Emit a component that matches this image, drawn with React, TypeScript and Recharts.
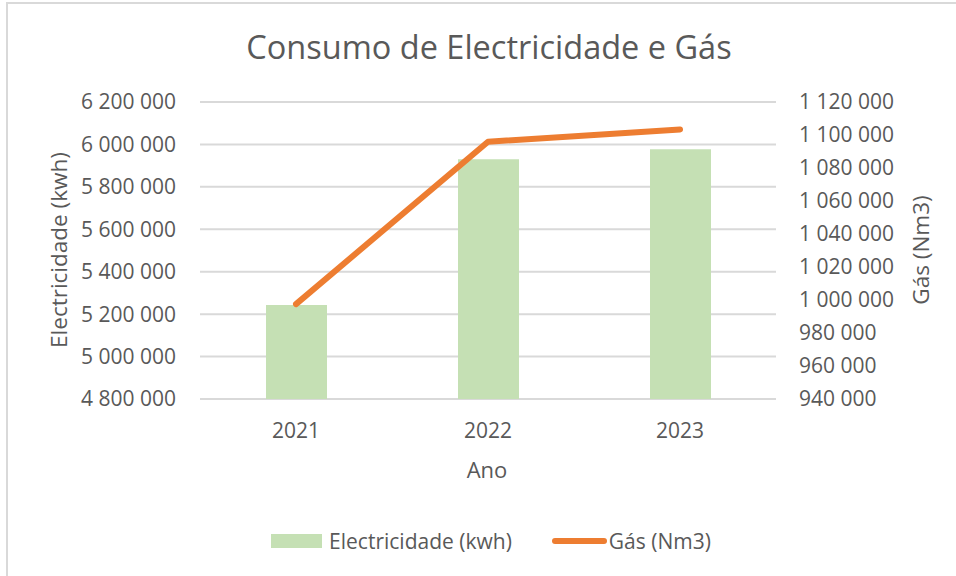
import {
  ComposedChart,
  Bar,
  Line,
  XAxis,
  YAxis,
  CartesianGrid,
} from "recharts";

const years = ["2021", "2022", "2023"];
const electricidade = [5243000, 5930000, 5977000];
const gas = [997500, 1095900, 1103400];

const leftTicks = [4800000, 5000000, 5200000, 5400000, 5600000, 5800000, 6000000, 6200000];
const rightTicks = [940000, 960000, 980000, 1000000, 1020000, 1040000, 1060000, 1080000, 1100000, 1120000];

const BAR_COLOR = "#C5E0B4";
const LINE_COLOR = "#ED7D31";
const TEXT = "#595959";
const GRID = "#d9d9d9";
const FONT = "'Open Sans', sans-serif";

const data = years.map((y, i) => ({
  ano: y,
  elec: electricidade[i],
  gas: gas[i],
}));

const fmt = (v: number) => String(v).replace(/\B(?=(\d{3})+(?!\d))/g, " ");

// legend drawn by hand: Excel's swatches are wider than recharts' square icons
function LegendBox() {
  return (
    <div
      style={{
        position: "absolute",
        left: 0,
        width: 956,
        top: 527,
        display: "flex",
        justifyContent: "center",
        alignItems: "center",
        fontSize: 21,
        color: TEXT,
        lineHeight: "28px",
        paddingLeft: 26,
        boxSizing: "border-box",
      }}
    >
      <span style={{ display: "inline-block", width: 51, height: 14, background: BAR_COLOR, marginRight: 7 }} />
      <span>Electricidade (kwh)</span>
      <span
        style={{
          display: "inline-block",
          width: 55,
          height: 6,
          borderRadius: 3,
          background: LINE_COLOR,
          marginLeft: 40,
          marginRight: 2,
        }}
      />
      <span>Gás (Nm3)</span>
    </div>
  );
}

export default function App() {
  return (
    <div
      style={{
        position: "absolute",
        left: 0,
        top: 0,
        width: 956,
        height: 576,
        overflow: "hidden",
        background: "#fff",
        fontFamily: FONT,
      }}
    >
      <div
        style={{
          position: "absolute",
          left: 6,
          top: 2,
          width: 1000,
          height: 700,
          border: `2px solid ${GRID}`,
          boxSizing: "border-box",
        }}
      />
      <div
        style={{
          position: "absolute",
          left: 0,
          width: 978,
          top: 27,
          textAlign: "center",
          fontSize: 32.5,
          color: TEXT,
          lineHeight: "40px",
        }}
      >
        Consumo de Electricidade e Gás
      </div>
      <div
        style={{
          position: "absolute",
          left: 58,
          top: 250,
          transform: "translate(-50%, -50%) rotate(-90deg)",
          whiteSpace: "nowrap",
          fontSize: 22.5,
          color: TEXT,
        }}
      >
        Electricidade (kwh)
      </div>
      <div
        style={{
          position: "absolute",
          left: 920,
          top: 250,
          transform: "translate(-50%, -50%) rotate(-90deg)",
          whiteSpace: "nowrap",
          fontSize: 22.5,
          color: TEXT,
        }}
      >
        Gás (Nm3)
      </div>
      <div
        style={{
          position: "absolute",
          left: 487,
          top: 469,
          transform: "translate(-50%, -50%)",
          fontSize: 22,
          color: TEXT,
        }}
      >
        Ano
      </div>
      <div style={{ position: "absolute", left: 0, top: 0 }}>
        <ComposedChart
          width={956}
          height={576}
          data={data}
          margin={{ top: 102, right: 0, bottom: 137, left: 0 }}
        >
          <CartesianGrid
            yAxisId="left"
            vertical={false}
            stroke={GRID}
            strokeWidth={2}
          />
          <XAxis
            dataKey="ano"
            height={40}
            axisLine={false}
            tickLine={false}
            tickMargin={18}
            tick={{ fill: TEXT, fontSize: 21, fontFamily: FONT }}
          />
          <YAxis
            yAxisId="left"
            orientation="left"
            width={200}
            domain={[4800000, 6200000]}
            ticks={leftTicks}
            interval={0}
            axisLine={false}
            tickLine={false}
            tickMargin={18}
            tickFormatter={fmt}
            tick={{ fill: TEXT, fontSize: 21, fontFamily: FONT }}
          />
          <YAxis
            yAxisId="right"
            orientation="right"
            width={180}
            domain={[940000, 1120000]}
            ticks={rightTicks}
            interval={0}
            axisLine={false}
            tickLine={false}
            tickMargin={17}
            tickFormatter={fmt}
            tick={{ fill: TEXT, fontSize: 21, fontFamily: FONT, textAnchor: "start" }}
          />
          <Bar
            yAxisId="left"
            dataKey="elec"
            name="Electricidade (kwh)"
            fill={BAR_COLOR}
            barSize={61}
            isAnimationActive={false}
          />
          <Line
            yAxisId="right"
            dataKey="gas"
            name="Gás (Nm3)"
            type="linear"
            stroke={LINE_COLOR}
            strokeWidth={6}
            strokeLinecap="round"
            strokeLinejoin="round"
            dot={false}
            activeDot={false}
            isAnimationActive={false}
          />
        </ComposedChart>
      </div>
      <LegendBox />
    </div>
  );
}
